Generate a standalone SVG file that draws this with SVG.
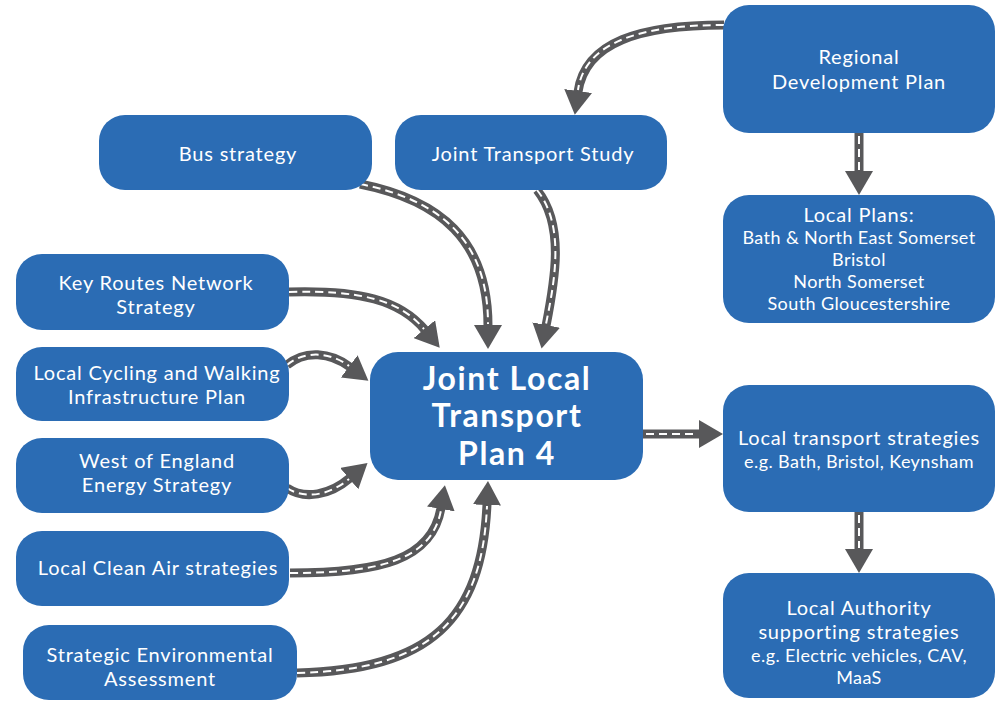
<svg xmlns="http://www.w3.org/2000/svg" width="1002" height="701" viewBox="0 0 1002 701">
<style>
.node{fill:#2b6cb4;}
.t{font-family:Lato,"Liberation Sans",sans-serif;fill:#ffffff;text-anchor:middle;font-size:20px;letter-spacing:0.8px;}
.s{font-size:18px;letter-spacing:0.4px;}
.b{font-weight:bold;font-size:32px;letter-spacing:1.6px;}
.road{fill:none;stroke:#58585a;stroke-width:9;}
.dash{fill:none;stroke:#ffffff;stroke-width:2;stroke-dasharray:8 5;}
</style>
<defs>
<marker id="ah" viewBox="0 0 24 28" refX="1" refY="14" markerWidth="24" markerHeight="28" markerUnits="userSpaceOnUse" orient="auto">
<path d="M0,0 L24,14 L0,28 Z" fill="#58585a"/>
</marker>
</defs>
<rect width="1002" height="701" fill="#ffffff"/>
<g id="connectors">
<path class="road" marker-end="url(#ah)" d="M724,25 C640,25 585,42 578,92"/>
<path class="dash" d="M724,25 C640,25 585,42 578,90"/>
<path class="road" marker-end="url(#ah)" d="M360,184 C440,200 488,240 488,326"/>
<path class="dash" d="M360,184 C440,200 488,240 488,324"/>
<path class="road" marker-end="url(#ah)" d="M537,190 C565,225 555,280 546,326"/>
<path class="dash" d="M537,190 C565,225 555,280 546,324"/>
<path class="road" marker-end="url(#ah)" d="M289,292 C360,290 400,300 425,330"/>
<path class="dash" d="M289,292 C360,290 400,300 424,329"/>
<path class="road" marker-end="url(#ah)" d="M287,365 C305,350 330,352 350,367"/>
<path class="dash" d="M287,365 C305,350 330,352 349,366"/>
<path class="road" marker-end="url(#ah)" d="M287,488 C305,500 330,495 350,478"/>
<path class="dash" d="M287,488 C305,500 330,495 349,479"/>
<path class="road" marker-end="url(#ah)" d="M290,573 C380,573 432,560 441,508"/>
<path class="dash" d="M290,573 C380,573 432,560 441,510"/>
<path class="road" marker-end="url(#ah)" d="M297,673 C430,670 482,620 487,504"/>
<path class="dash" d="M297,673 C430,670 482,620 487,506"/>
<path class="road" marker-end="url(#ah)" d="M643,434 L700,434"/>
<path class="dash" d="M646,434 L698,434"/>
<path class="road" marker-end="url(#ah)" d="M859,133 L859,172"/>
<path class="dash" d="M859,136 L859,170"/>
<path class="road" marker-end="url(#ah)" d="M859,512 L859,550"/>
<path class="dash" d="M859,515 L859,548"/>
</g>
<g id="regional">
<rect class="node" x="723" y="5" width="272" height="128" rx="26"/>
<text class="t" x="859" y="64">Regional</text>
<text class="t" x="859" y="89">Development Plan</text>
</g>
<g id="localplans">
<rect class="node" x="723" y="195" width="272" height="128" rx="26"/>
<text class="t" x="859" y="222">Local Plans:</text>
<text class="t s" x="859" y="244">Bath &amp; North East Somerset</text>
<text class="t s" x="859" y="266">Bristol</text>
<text class="t s" x="859" y="288">North Somerset</text>
<text class="t s" x="859" y="310">South Gloucestershire</text>
</g>
<g id="localtransport">
<rect class="node" x="723" y="385" width="272" height="127" rx="26"/>
<text class="t" x="859" y="445">Local transport strategies</text>
<text class="t s" x="859" y="468">e.g. Bath, Bristol, Keynsham</text>
</g>
<g id="localauthority">
<rect class="node" x="723" y="573" width="272" height="125" rx="26"/>
<text class="t" x="859" y="615">Local Authority</text>
<text class="t" x="859" y="639">supporting strategies</text>
<text class="t s" x="859" y="662">e.g. Electric vehicles, CAV,</text>
<text class="t s" x="859" y="684">MaaS</text>
</g>
<g id="bus">
<rect class="node" x="99" y="115" width="273" height="75" rx="26"/>
<text class="t" x="238" y="161">Bus strategy</text>
</g>
<g id="jts">
<rect class="node" x="395" y="115" width="272" height="75" rx="26"/>
<text class="t" x="533" y="161">Joint Transport Study</text>
</g>
<g id="keyroutes">
<rect class="node" x="16" y="254" width="273" height="76" rx="26"/>
<text class="t" x="156" y="290">Key Routes Network</text>
<text class="t" x="156" y="314">Strategy</text>
</g>
<g id="cycling">
<rect class="node" x="16" y="347" width="273" height="74" rx="26"/>
<text class="t" x="157" y="380">Local Cycling and Walking</text>
<text class="t" x="157" y="404">Infrastructure Plan</text>
</g>
<g id="energy">
<rect class="node" x="16" y="438" width="273" height="75" rx="26"/>
<text class="t" x="157" y="468">West of England</text>
<text class="t" x="157" y="492">Energy Strategy</text>
</g>
<g id="cleanair">
<rect class="node" x="16" y="531" width="273" height="75" rx="26"/>
<text class="t" x="158" y="575">Local Clean Air strategies</text>
</g>
<g id="sea">
<rect class="node" x="23" y="625" width="274" height="75" rx="26"/>
<text class="t" x="160" y="662">Strategic Environmental</text>
<text class="t" x="160" y="686">Assessment</text>
</g>
<g id="jltp">
<rect class="node" x="370" y="352" width="273" height="128" rx="28"/>
<text class="t b" x="507" y="390">Joint Local</text>
<text class="t b" x="507" y="427">Transport</text>
<text class="t b" x="507" y="465">Plan 4</text>
</g>
</svg>
